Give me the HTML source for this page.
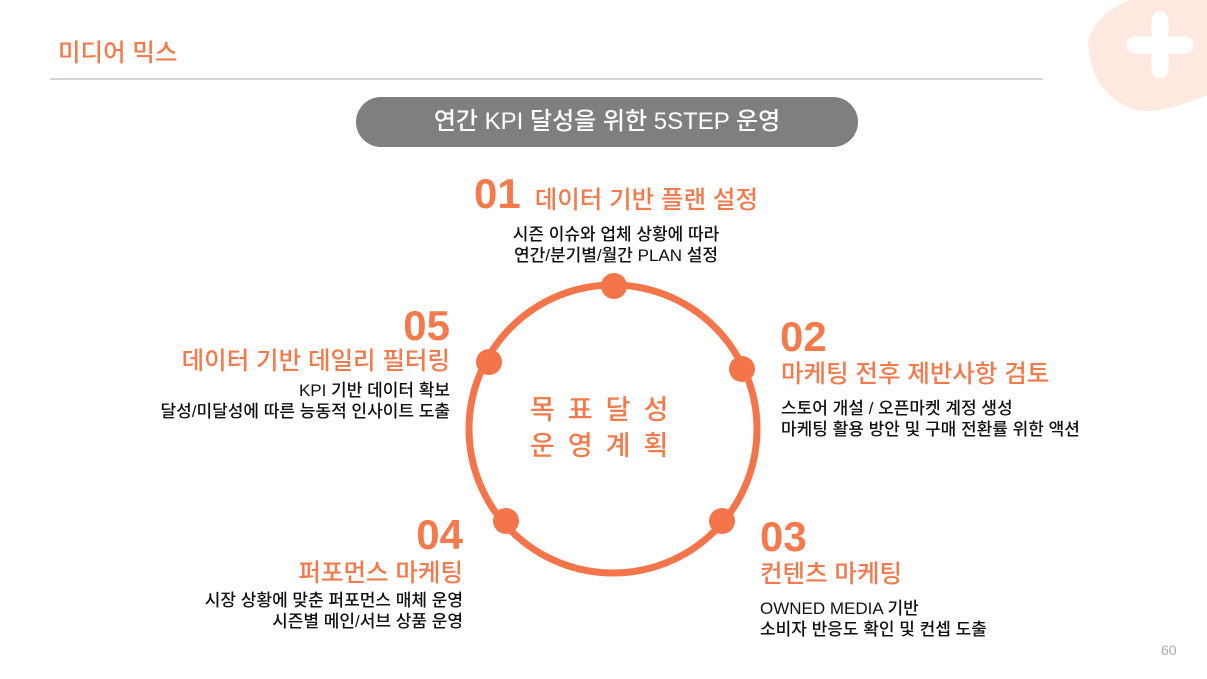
<!DOCTYPE html>
<html><head><meta charset="utf-8"><style>
body{margin:0;width:1207px;height:679px;position:relative;background:#fff;overflow:hidden;font-family:"Liberation Sans","Noto Sans CJK KR",sans-serif}
.a{position:absolute;white-space:nowrap}
.o{color:#f47a4c}
.num{font-weight:bold;font-size:42px;color:#f47a4c;line-height:40px}
.t{font-size:24.5px;color:#f47a4c;line-height:28px;font-weight:500}
.d{font-size:17px;color:#111;line-height:21px;font-weight:500}
.r{text-align:right}
</style></head><body>
<svg class="a" style="left:0;top:0" width="1207" height="679">
<path d="M1130 0 L1207 0 L1207 95 Q1160 115 1135 110 Q1092 95 1088 45 Q1092 15 1130 0Z" fill="#fde9e0"/>
<g stroke="#fff" stroke-width="17" stroke-linecap="round"><line x1="1160" y1="20" x2="1160" y2="70"/><line x1="1135" y1="45" x2="1185" y2="45"/></g>
<line x1="50" y1="79" x2="1043" y2="79" stroke="#b0a8a4" stroke-width="1"/>
<rect x="356" y="97" width="502" height="50" rx="25" fill="#7f7f7f"/>
<circle cx="613" cy="429" r="144" fill="none" stroke="#f5754a" stroke-width="7"/>
<g fill="#f5754a"><circle cx="614" cy="286" r="13"/><circle cx="742" cy="369" r="13"/><circle cx="722" cy="521" r="13"/><circle cx="506" cy="521" r="13"/><circle cx="489" cy="362" r="13"/></g>
</svg>
<div class="a o" style="left:58px;top:34px;font-size:24.5px;font-weight:500">미디어 믹스</div>
<div class="a" style="left:356px;top:97px;width:502px;line-height:50px;text-align:center;color:#fff;font-size:24px;font-weight:500">연간 KPI 달성을 위한 5STEP 운영</div>
<div class="a o" style="left:530px;top:392px;font-size:27px;font-weight:500;letter-spacing:13px;line-height:36px;text-align:center">목표달성<br>운영계획</div>

<div class="a" style="left:474px;top:174px"><span class="num">01</span><span class="t" style="margin-left:14px">데이터 기반 플랜 설정</span></div>
<div class="a d" style="left:466px;top:224px;width:300px;text-align:center">시즌 이슈와 업체 상황에 따라<br>연간/분기별/월간 PLAN 설정</div>

<div class="a num" style="left:780px;top:317px">02</div>
<div class="a t" style="left:781px;top:361px">마케팅 전후 제반사항 검토</div>
<div class="a d" style="left:781px;top:398px">스토어 개설 / 오픈마켓 계정 생성<br>마케팅 활용 방안 및 구매 전환률 위한 액션</div>

<div class="a num" style="left:760px;top:517px">03</div>
<div class="a t" style="left:760px;top:561px">컨텐츠 마케팅</div>
<div class="a d" style="left:760px;top:598px">OWNED MEDIA 기반<br>소비자 반응도 확인 및 컨셉 도출</div>

<div class="a num r" style="right:744px;top:515px">04</div>
<div class="a t r" style="right:744px;top:560px">퍼포먼스 마케팅</div>
<div class="a d r" style="right:744px;top:590px">시장 상황에 맞춘 퍼포먼스 매체 운영<br>시즌별 메인/서브 상품 운영</div>

<div class="a num r" style="right:757px;top:306px">05</div>
<div class="a t r" style="right:757px;top:348px">데이터 기반 데일리 필터링</div>
<div class="a d r" style="right:757px;top:380px">KPI 기반 데이터 확보<br>달성/미달성에 따른 능동적 인사이트 도출</div>

<div class="a" style="left:1161px;top:642px;font-size:14px;color:#aaa">60</div>
</body></html>
